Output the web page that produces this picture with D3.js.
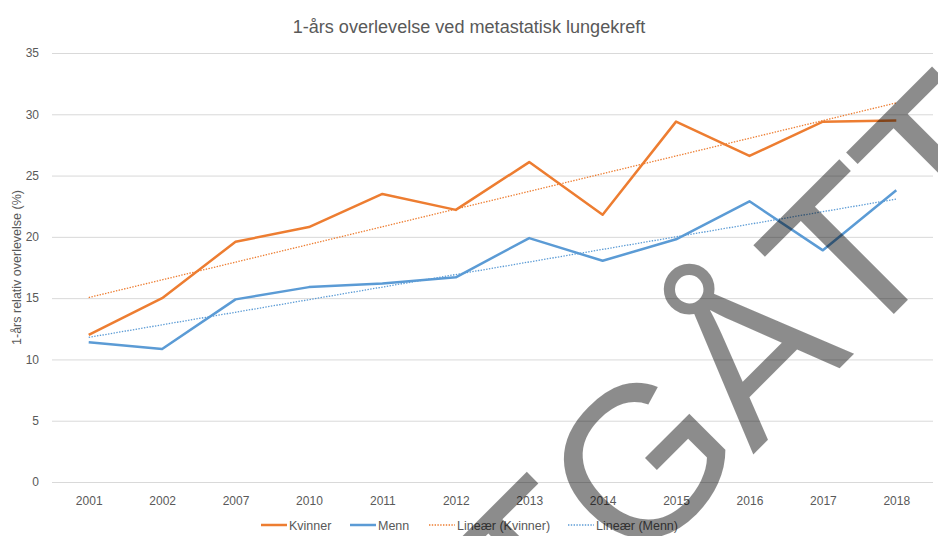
<!DOCTYPE html>
<html>
<head>
<meta charset="utf-8">
<script src="https://cdn.jsdelivr.net/npm/d3@7"></script>
<style>
  html, body { margin: 0; padding: 0; background: #fff; }
  svg { display: block; }
  text { font-family: "Liberation Sans", Arial, sans-serif; }
</style>
</head>
<body>
<svg id="chart" width="938" height="536"></svg>
<script>
const years = ["2001","2002","2007","2010","2011","2012","2013","2014","2015","2016","2017","2018"];
const kvinner = [12.0, 15.0, 19.6, 20.8, 23.5, 22.2, 26.1, 21.8, 29.4, 26.6, 29.4, 29.5];
const menn    = [11.4, 10.85, 14.9, 15.9, 16.2, 16.7, 19.9, 18.05, 19.8, 22.9, 18.9, 23.8];
// trend line end values (first and last category)
const trendKvinner = [15.05, 30.93];
const trendMenn    = [11.8, 23.08];
const yTicks = [0, 5, 10, 15, 20, 25, 30, 35];
const titleText = "1-års overlevelse ved metastatisk lungekreft";
const yTitle = "1-års relativ overlevelse (%)";
const legendLabels = ["Kvinner", "Menn", "Lineær (Kvinner)", "Lineær (Menn)"];
const watermark = "UTGÅTT";

const orange = "#ED7D31", blue = "#5B9BD5", textCol = "#595959", gridCol = "#d9d9d9";

const svg = d3.select("#chart");
svg.append("rect").attr("width", 938).attr("height", 536).attr("fill", "#fff");

const x = d3.scalePoint().domain(years).range([52, 933]).padding(0.5);
const y = d3.scaleLinear().domain([0, 35]).range([482, 53]);

// gridlines
const yAxis = d3.axisLeft(y).tickValues(yTicks).tickSize(-(933 - 52)).tickPadding(13);
const gy = svg.append("g").attr("transform", "translate(52,0)").call(yAxis);
gy.select(".domain").remove();
gy.selectAll(".tick line").attr("stroke", gridCol).attr("stroke-width", 1);
gy.selectAll(".tick text").attr("fill", textCol).attr("font-size", 12)
  .attr("font-family", "Liberation Sans, Arial, sans-serif");

// x axis labels
const xAxis = d3.axisBottom(x).tickSize(0).tickPadding(14);
const gx = svg.append("g").attr("transform", "translate(0,482)").call(xAxis);
gx.select(".domain").remove();
gx.selectAll(".tick text").attr("fill", textCol).attr("font-size", 12)
  .attr("font-family", "Liberation Sans, Arial, sans-serif");

// title
function fitText(sel, target) {
  const w = sel.node().getComputedTextLength();
  const fs = parseFloat(sel.attr("font-size"));
  sel.attr("font-size", fs * target / w);
}
const title = svg.append("text").attr("x", 469).attr("y", 33)
  .attr("text-anchor", "middle").attr("fill", textCol).attr("font-size", 17).text(titleText);
fitText(title, 353);

// y title
const yt = svg.append("text").attr("transform", "translate(21,267.5) rotate(-90)")
  .attr("text-anchor", "middle").attr("fill", textCol).attr("font-size", 11).text(yTitle);
fitText(yt, 155);

// trend lines
function trendData(vals) {
  return [{k: years[0], v: vals[0]}, {k: years[years.length - 1], v: vals[1]}];
}
const line = d3.line().x(d => x(d.k)).y(d => y(d.v));
svg.append("path").datum(trendData(trendKvinner)).attr("d", line)
  .attr("fill", "none").attr("stroke", orange).attr("stroke-width", 1.3).attr("stroke-dasharray", "1.4 1.4");
svg.append("path").datum(trendData(trendMenn)).attr("d", line)
  .attr("fill", "none").attr("stroke", blue).attr("stroke-width", 1.3).attr("stroke-dasharray", "1.4 1.4");

// series lines
function seriesData(vals) { return years.map((k, i) => ({k, v: vals[i]})); }
svg.append("path").datum(seriesData(menn)).attr("d", line)
  .attr("fill", "none").attr("stroke", blue).attr("stroke-width", 2.5).attr("stroke-linejoin", "round");
svg.append("path").datum(seriesData(kvinner)).attr("d", line)
  .attr("fill", "none").attr("stroke", orange).attr("stroke-width", 2.5).attr("stroke-linejoin", "round");

// legend
const legendX = [261, 350, 429, 568];
const legendColors = [orange, blue, orange, blue];
const legendDash = [null, null, "1.4 1.4", "1.4 1.4"];
const ly = 525;
legendLabels.forEach((lab, i) => {
  svg.append("line").attr("x1", legendX[i]).attr("x2", legendX[i] + 26).attr("y1", ly).attr("y2", ly)
    .attr("stroke", legendColors[i]).attr("stroke-width", legendDash[i] ? 1.3 : 2.5)
    .attr("stroke-dasharray", legendDash[i]);
  svg.append("text").attr("x", legendX[i] + 28).attr("y", ly + 4.5).attr("fill", textCol)
    .attr("font-size", 12.5).text(lab);
});

// watermark
svg.append("text").attr("transform", "rotate(-45)")
  .attr("x", 617).attr("y", 854).attr("text-anchor", "end")
  .attr("font-size", 215).attr("fill", "#000").attr("fill-opacity", 0.45)
  .text(watermark);
</script>
</body>
</html>
